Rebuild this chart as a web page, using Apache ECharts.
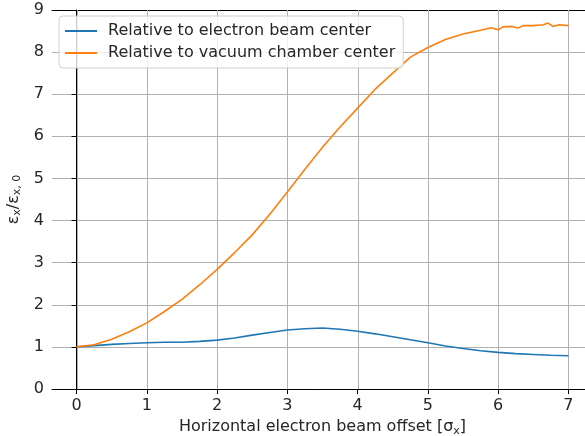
<!DOCTYPE html>
<html>
<head>
<meta charset="utf-8">
<script src="https://cdn.jsdelivr.net/npm/echarts@6/dist/echarts.min.js"></script>
<style>
  html, body { margin: 0; padding: 0; background: #fff; }
  #chart { width: 585px; height: 436px; }
</style>
</head>
<body>
<div id="chart"></div>
<script>
var seriesNames = ['Relative to electron beam center', 'Relative to vacuum chamber center'];
var xTicks = [0, 1, 2, 3, 4, 5, 6, 7];

// beam offset in sigma_x and emittance ratio
var beamX = [0, 0.25, 0.5, 0.75, 1, 1.25, 1.5, 1.75, 2, 2.25, 2.5, 2.75, 3, 3.25, 3.5,
             3.75, 4, 4.25, 4.5, 4.75, 5, 5.25, 5.5, 5.75, 6, 6.25, 6.5, 6.75, 7];
var beamY = [1.00, 1.03, 1.06, 1.08, 1.10, 1.11, 1.11, 1.13, 1.16, 1.21, 1.28, 1.34, 1.40, 1.43, 1.45,
             1.42, 1.37, 1.31, 1.24, 1.17, 1.10, 1.02, 0.96, 0.91, 0.87, 0.84, 0.82, 0.80, 0.79];

var chamberX = [0, 0.25, 0.5, 0.75, 1, 1.25, 1.5, 1.75, 2, 2.25, 2.5, 2.75, 3, 3.25, 3.5,
                3.75, 4, 4.25, 4.5, 4.75, 5, 5.25, 5.5, 5.75, 5.9, 6, 6.07, 6.2, 6.28, 6.36,
                6.5, 6.64, 6.71, 6.78, 6.87, 7];
var chamberY = [1.00, 1.05, 1.18, 1.36, 1.57, 1.84, 2.13, 2.47, 2.84, 3.24, 3.66, 4.15, 4.68, 5.22, 5.74,
                6.22, 6.67, 7.12, 7.50, 7.88, 8.11, 8.30, 8.43, 8.52, 8.58, 8.53, 8.60, 8.61, 8.57, 8.63,
                8.63, 8.65, 8.69, 8.61, 8.65, 8.63];

var yMin = 0, yMax = 9;

function pairs(xs, ys) {
    return xs.map(function (x, i) { return [x, ys[i]]; });
}

var chart = echarts.init(document.getElementById('chart'));

var option = {
    animation: false,
    textStyle: { fontFamily: 'DejaVu Sans' },
    grid: {
        left: 52, right: -8, top: 10, bottom: 47,
        outerBoundsMode: 'none',
        containLabel: false
    },
    legend: {
        orient: 'vertical',
        left: 59, top: 16,
        icon: 'rect',
        itemWidth: 32, itemHeight: 2,
        itemGap: 6,
        padding: [7, 8, 7, 6],
        borderColor: '#d0d0d0', borderWidth: 1, borderRadius: 4,
        backgroundColor: 'rgba(255,255,255,0.8)',
        textStyle: { fontSize: 16, color: '#262626', fontFamily: 'DejaVu Sans', padding: [0, 0, 0, 6] },
        data: seriesNames
    },
    xAxis: [{
        type: 'value',
        min: -0.35, max: 7.35,
        name: '{a|Horizontal electron beam offset [σ}{s|x}{a|]}',
        nameLocation: 'middle',
        nameGap: 23,
        nameTextStyle: {
            rich: {
                a: { fontSize: 16, color: '#262626', fontFamily: 'DejaVu Sans' },
                s: { fontSize: 11, color: '#262626', fontFamily: 'DejaVu Sans', padding: [8, 0, 0, 0] }
            }
        },
        axisLine: { onZero: false, lineStyle: { color: '#000' } },
        axisTick: { show: true, length: 5, customValues: xTicks, lineStyle: { color: '#000' } },
        axisLabel: { customValues: xTicks, fontSize: 16, color: '#262626', margin: 9 },
        splitLine: { show: false }
    }, {
        // top spine only
        type: 'value',
        position: 'top',
        min: -0.35, max: 7.35,
        axisLine: { show: true, onZero: false, lineStyle: { color: '#000' } },
        axisTick: { show: false },
        axisLabel: { show: false },
        splitLine: { show: false }
    }],
    yAxis: {
        type: 'value',
        min: yMin, max: yMax, interval: 1,
        name: '{a|ε}{s|x}{a|/ε}{s|x, 0}',
        nameLocation: 'middle',
        nameGap: 22,
        nameTextStyle: {
            rich: {
                a: { fontSize: 16, color: '#262626', fontFamily: 'DejaVu Sans' },
                s: { fontSize: 11, color: '#262626', fontFamily: 'DejaVu Sans', padding: [8, 0, 0, 0] }
            }
        },
        axisLine: { show: true, lineStyle: { color: '#000' } },
        axisTick: { show: true, length: 5, lineStyle: { color: '#000' } },
        axisLabel: { fontSize: 16, color: '#262626', margin: 8 },
        splitLine: { show: true, lineStyle: { color: '#b0b0b0', width: 1 } }
    },
    series: [
        {
            // vertical grid lines, one per x tick, placed through the axis scale
            name: 'xgrid',
            type: 'custom',
            z: 1,
            silent: true,
            clip: false,
            encode: { x: 0, y: 1 },
            data: xTicks.map(function (v) { return [v, yMin]; }),
            renderItem: function (params, api) {
                var bottom = api.coord([api.value(0), yMin]);
                var top = api.coord([api.value(0), yMax]);
                var x = Math.round(bottom[0]) + 0.5;
                return {
                    type: 'line',
                    shape: { x1: x, y1: top[1], x2: x, y2: bottom[1] },
                    style: { stroke: '#b0b0b0', lineWidth: 1 }
                };
            }
        },
        {
            name: seriesNames[0],
            type: 'line',
            symbol: 'none',
            color: '#1f77b4',
            lineStyle: { width: 1.6 },
            data: pairs(beamX, beamY)
        },
        {
            name: seriesNames[1],
            type: 'line',
            symbol: 'none',
            color: '#ff7f0e',
            lineStyle: { width: 1.6 },
            data: pairs(chamberX, chamberY)
        }
    ]
};

chart.setOption(option);
</script>
</body>
</html>
